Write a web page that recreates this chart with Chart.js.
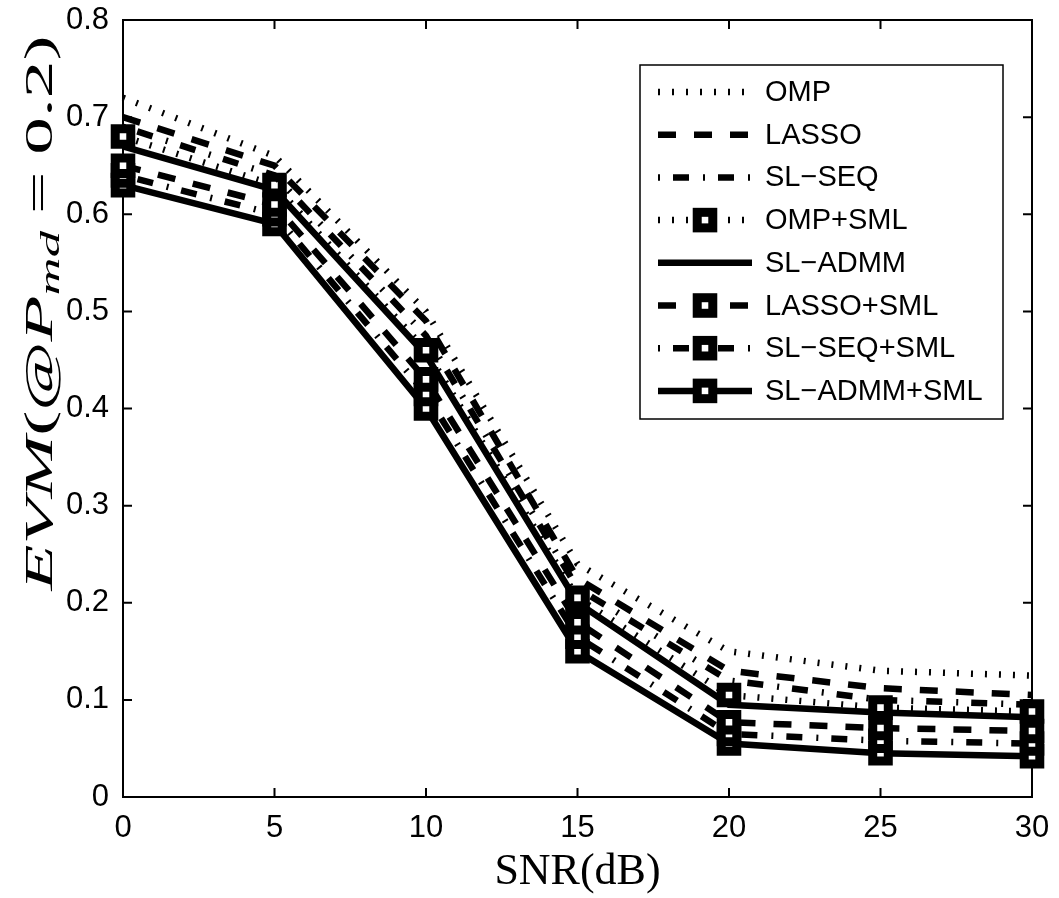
<!DOCTYPE html>
<html>
<head>
<meta charset="utf-8">
<script src="https://cdn.jsdelivr.net/npm/chart.js@4/dist/chart.umd.min.js"></script>
<style>
  html, body { margin: 0; padding: 0; background: #fff; }
  #wrap { width: 1059px; height: 898px; }
</style>
</head>
<body>
<div id="wrap"><canvas id="chart"></canvas></div>
<script>
// EVM vs SNR
const snr = [0, 5, 10, 15, 20, 25, 30];

const omp        = [0.72, 0.66, 0.50, 0.240, 0.150, 0.130, 0.125];
const lasso      = [0.70, 0.65, 0.49, 0.225, 0.130, 0.112, 0.105];
const slSeq      = [0.69, 0.64, 0.475, 0.215, 0.120, 0.100, 0.095];
const ompSml     = [0.68, 0.63, 0.46, 0.205, 0.105, 0.092, 0.088];
const slAdmm     = [0.67, 0.625, 0.455, 0.200, 0.095, 0.087, 0.082];
const lassoSml   = [0.65, 0.61, 0.43, 0.180, 0.077, 0.071, 0.068];
const slSeqSml   = [0.64, 0.60, 0.415, 0.165, 0.065, 0.058, 0.055];
const slAdmmSml  = [0.63, 0.59, 0.40, 0.150, 0.055, 0.045, 0.042];

const seriesNames = ['OMP', 'LASSO', 'SL\u2212SEQ', 'OMP+SML', 'SL\u2212ADMM', 'LASSO+SML', 'SL\u2212SEQ+SML', 'SL\u2212ADMM+SML'];
const seriesData = [omp, lasso, slSeq, ompSml, slAdmm, lassoSml, slSeqSml, slAdmmSml];

const xTicks = [0, 5, 10, 15, 20, 25, 30];
const xTickLabels = ['0', '5', '10', '15', '20', '25', '30'];
const yTicks = [0, 0.1, 0.2, 0.3, 0.4, 0.5, 0.6, 0.7, 0.8];
const yTickLabels = ['0', '0.1', '0.2', '0.3', '0.4', '0.5', '0.6', '0.7', '0.8'];

// line styles (matlab-ish)
const DOT = [2, 12];
const DASH = [18, 18];
const DASHDOT = [2, 13, 16, 14];
const styles = [
  { dash: DOT,     marker: false },
  { dash: DASH,    marker: false },
  { dash: DASHDOT, marker: false },
  { dash: DOT,     marker: true },
  { dash: [],      marker: false },
  { dash: DASH,    marker: true },
  { dash: DASHDOT, marker: true },
  { dash: [],      marker: true }
];

const LW = 6.5;
const MARK_R = 11;
const MARK_BW = 9;

const datasets = seriesData.map((vals, i) => ({
  label: seriesNames[i],
  data: snr.map((x, j) => ({ x, y: vals[j] })),
  borderColor: '#000',
  borderWidth: LW,
  borderDash: styles[i].dash,
  borderCapStyle: 'butt',
  borderJoinStyle: 'miter',
  tension: 0,
  fill: false,
  clip: false,
  pointStyle: 'rect',
  pointRadius: styles[i].marker ? MARK_R : 0,
  pointHoverRadius: styles[i].marker ? MARK_R : 0,
  pointBorderWidth: MARK_BW,
  pointBorderColor: '#000',
  pointBackgroundColor: '#fff'
}));

// box + inward ticks
const framePlugin = {
  id: 'frame',
  beforeDatasetsDraw(chart) {
    const { ctx, chartArea: a, scales: { x, y } } = chart;
    ctx.save();
    ctx.strokeStyle = '#000';
    ctx.lineWidth = 2;
    ctx.strokeRect(a.left, a.top, a.right - a.left, a.bottom - a.top);
    ctx.beginPath();
    xTicks.forEach(v => {
      const px = x.getPixelForValue(v);
      ctx.moveTo(px, a.bottom); ctx.lineTo(px, a.bottom - 9);
      ctx.moveTo(px, a.top); ctx.lineTo(px, a.top + 9);
    });
    yTicks.forEach(v => {
      const py = y.getPixelForValue(v);
      ctx.moveTo(a.left, py); ctx.lineTo(a.left + 9, py);
      ctx.moveTo(a.right, py); ctx.lineTo(a.right - 9, py);
    });
    ctx.stroke();
    ctx.restore();
  }
};

// axis titles, latex-ish
const titlePlugin = {
  id: 'titles',
  afterDraw(chart) {
    const { ctx, chartArea: a } = chart;
    ctx.save();
    ctx.fillStyle = '#000';
    ctx.font = '44px "Liberation Serif"';
    ctx.textAlign = 'center';
    ctx.textBaseline = 'alphabetic';
    ctx.fillText('SNR(dB)', (a.left + a.right) / 2, 884);

    // y title: EVM(@P_md = 0.2)
    const F = 40;
    const parts = [
      { t: 'EVM', f: `italic ${F}px "Liberation Serif"`, dy: 0 },
      { t: '(@', f: `${F}px "Liberation Serif"`, dy: 0 },
      { t: 'P', f: `italic ${F}px "Liberation Serif"`, dy: 0 },
      { t: 'md', f: `italic ${Math.round(F * 0.7)}px "Liberation Serif"`, dy: 7 },
      { t: '=', f: `${F}px "Liberation Serif"`, dy: 0, pad: 9 },
      { t: '0.2)', f: `${F}px "Liberation Serif"`, dy: 0 }
    ];
    let total = 0;
    parts.forEach(p => { ctx.font = p.f; p.w = ctx.measureText(p.t).width + (p.pad || 0) * 2; total += p.w; });
    const target = 555;
    const k = target / total;
    ctx.translate(52, 313);
    ctx.rotate(-Math.PI / 2);
    ctx.scale(k, 1);
    ctx.textAlign = 'left';
    let cx = -total / 2;
    parts.forEach(p => {
      ctx.font = p.f;
      ctx.fillText(p.t, cx + (p.pad || 0), p.dy);
      cx += p.w;
    });
    ctx.restore();
  }
};

// legend box with line samples
const legendPlugin = {
  id: 'legendBox',
  afterDraw(chart) {
    const ctx = chart.ctx;
    const bx = 640, by = 65, bw = 363, bh = 354;
    ctx.save();
    ctx.fillStyle = '#fff';
    ctx.fillRect(bx, by, bw, bh);
    ctx.strokeStyle = '#000';
    ctx.lineWidth = 1.5;
    ctx.strokeRect(bx, by, bw, bh);
    chart.data.datasets.forEach((d, i) => {
      const yy = 92 + i * 42.7;
      ctx.strokeStyle = '#000';
      ctx.lineWidth = d.borderWidth;
      ctx.setLineDash(d.borderDash);
      ctx.lineCap = 'butt';
      ctx.beginPath();
      ctx.moveTo(658, yy);
      ctx.lineTo(752, yy);
      ctx.stroke();
      ctx.setLineDash([]);
      if (d.pointRadius > 0) {
        const s = d.pointRadius * Math.SQRT2;
        ctx.fillStyle = '#fff';
        ctx.lineWidth = d.pointBorderWidth;
        ctx.fillRect(705 - s / 2, yy - s / 2, s, s);
        ctx.strokeRect(705 - s / 2, yy - s / 2, s, s);
      }
      ctx.fillStyle = '#000';
      ctx.font = '29px "Liberation Sans"';
      ctx.textAlign = 'left';
      ctx.textBaseline = 'middle';
      ctx.fillText(d.label, 765, yy + 1);
    });
    ctx.restore();
  }
};

new Chart(document.getElementById('chart'), {
  type: 'line',
  data: { datasets },
  plugins: [framePlugin, titlePlugin, legendPlugin],
  options: {
    responsive: true,
    maintainAspectRatio: false,
    animation: false,
    layout: { padding: { left: 0, top: 15, right: 27, bottom: 0 } },
    plugins: {
      legend: { display: false },
      tooltip: { enabled: false }
    },
    scales: {
      x: {
        type: 'linear',
        min: 0,
        max: 30,
        afterFit: s => { s.height = 101; s.paddingLeft = 0; s.paddingRight = 0; },
        afterBuildTicks: s => { s.ticks = xTicks.map(v => ({ value: v })); },
        grid: { display: false, drawTicks: false },
        border: { display: false },
        ticks: {
          color: '#000',
          padding: 13,
          maxRotation: 0,
          font: { family: '"Liberation Sans"', size: 31 },
          callback: (v) => xTickLabels[xTicks.indexOf(v)]
        }
      },
      y: {
        min: 0,
        max: 0.8,
        afterFit: s => { s.width = 123; s.paddingTop = 0; s.paddingBottom = 0; },
        afterBuildTicks: s => { s.ticks = yTicks.map(v => ({ value: v })); },
        grid: { display: false, drawTicks: false },
        border: { display: false },
        ticks: {
          color: '#000',
          padding: 14,
          font: { family: '"Liberation Sans"', size: 31 },
          callback: (v) => yTickLabels[yTicks.findIndex(t => Math.abs(t - v) < 1e-9)]
        }
      }
    }
  }
});
</script>
</body>
</html>
